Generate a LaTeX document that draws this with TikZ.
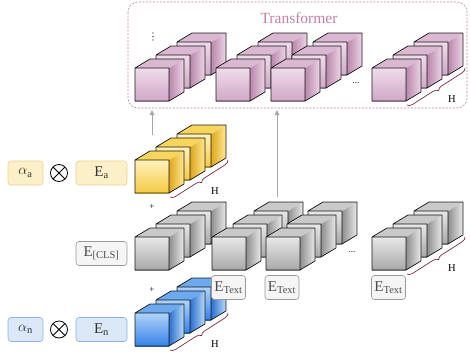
\documentclass[tikz,border=0pt]{standalone}
\usepackage{fontspec}
\setmainfont{Liberation Serif}
\usepackage{amsmath}
\usetikzlibrary{decorations.pathreplacing,arrows.meta}

% cube colours: F1/F2 front, T top, R1/R2 side
\definecolor{pkF1}{HTML}{EFDCEA}\definecolor{pkF2}{HTML}{D0A8C6}
\definecolor{pkT}{HTML}{DBB8D2}\definecolor{pkR1}{HTML}{B886AA}\definecolor{pkR2}{HTML}{EDD6E7}
\definecolor{ywF1}{HTML}{FFF2BC}\definecolor{ywF2}{HTML}{F5C944}
\definecolor{ywT}{HTML}{F8D65E}\definecolor{ywR1}{HTML}{DDA71E}\definecolor{ywR2}{HTML}{FFE992}
\definecolor{gyF1}{HTML}{E8E8E8}\definecolor{gyF2}{HTML}{A8A8A8}
\definecolor{gyT}{HTML}{C9C9C9}\definecolor{gyR1}{HTML}{8E8E8E}\definecolor{gyR2}{HTML}{EAEAEA}
\definecolor{blF1}{HTML}{B0D4FA}\definecolor{blF2}{HTML}{3582E8}
\definecolor{blT}{HTML}{6BAAF0}\definecolor{blR1}{HTML}{2A6ECE}\definecolor{blR2}{HTML}{BADBFA}
\definecolor{tfpink}{HTML}{C47FA8}
\definecolor{brc}{HTML}{7A2A4A}
% tag colours
\definecolor{ytagF}{HTML}{FCF0C9}\definecolor{ytagD}{HTML}{EDCF88}
\definecolor{btagF}{HTML}{DAE8F8}\definecolor{btagD}{HTML}{8CB2E0}

% one cube, front bottom-left corner at (#1,#2)
\newcommand{\cubeat}[3]{%
  \shade[top color=#3F1,bottom color=#3F2] (#1,#2) rectangle ++(34,-33);
  \shade[left color=#3R1,right color=#3R2] (#1+34,#2) -- ++(15,-9) -- ++(0,-33) -- ++(-15,9) -- cycle;
  \fill[#3T] (#1,#2-33) -- ++(34,0) -- ++(15,-9) -- ++(-34,0) -- cycle;
  \draw[edge] (#1,#2) rectangle ++(34,-33) (#1+34,#2) -- ++(15,-9) -- ++(0,-33) -- ++(-34,0) -- ++(-15,9);
}
% brace and H beside a stack based at (#1,#2)
\newcommand{\hbrace}[3]{%
  \coordinate (#3a) at (#1+35,#2+4);
  \coordinate (#3b) at (#1+93,#2-33);
  \draw[hbr] (#3a) -- (#3b);
  \node[hlab] (#3H) at (#1+80,#2-2) {H};
}

\begin{document}
\begin{tikzpicture}[x=1pt, y=-1pt,
  edge/.style={black!90, line width=0.75pt, line join=round},
  hbr/.style={brc, line width=0.7pt, decorate, decoration={brace, amplitude=5pt, mirror}},
  hlab/.style={font=\fontsize{10.5}{12}\selectfont, inner sep=0pt},
  tag/.style={rounded corners=3pt, minimum height=24pt, inner sep=1pt, line width=0.6pt,
    text=black!80, font=\fontsize{15}{18}\selectfont},
  ytag/.style={tag, fill=ytagF, draw=ytagD},
  btag/.style={tag, fill=btagF, draw=btagD},
  gtag/.style={tag, fill=black!4, draw=black!40, text=black!70},
  otimes/.style={circle, draw, line width=0.8pt, minimum size=17pt, inner sep=0pt,
    path picture={\draw[line width=0.8pt] (path picture bounding box.north west) -- (path picture bounding box.south east)
      (path picture bounding box.north east) -- (path picture bounding box.south west);}},
  uparrow/.style={black!35, line width=0.9pt, -{Triangle[length=5pt, width=4.5pt]}},
  small/.style={font=\fontsize{9}{9}\selectfont, inner sep=0pt}]
\useasboundingbox (0,0) rectangle (470,356);

% transformer block
\draw[tfpink, line width=0.6pt, dash pattern=on 2pt off 1.5pt, rounded corners=10pt] (128,2) rectangle (467,108);
\node[text=tfpink, font=\fontsize{15.5}{18}\selectfont] (tf) at (299,18) {Transformer};
\foreach \k in {2,1,0}
  \foreach \x in {135,216,271,372}
    \cubeat{\x+21*\k}{101-13*\k}{pk};
\foreach \d in {33,36.5,40}
  \fill (153,\d) circle (0.7);
\node[small] (hdt) at (356,83) {...};
\hbrace{372}{101}{tfb}

% audio row
\node[ytag, minimum width=35pt] (alphaA) at (25.5,173) {$\alpha_{\text{a}}$};
\node[otimes] (mulA) at (59,173) {};
\node[ytag, minimum width=51pt] (embA) at (101.5,173) {E$_{\text{a}}$};
\foreach \k in {2,1,0}
  \cubeat{135+21*\k}{193-13*\k}{yw};
\hbrace{135}{193}{ywb}

% text row
\node[small] (plusA) at (152,207) {+};
\foreach \k in {2,1,0}
  \foreach \x in {135,212,266,372}
    \cubeat{\x+21*\k}{270-13*\k}{gy};
\node[small] (hdg) at (352,252) {...};
\hbrace{372}{270}{gyb}
\node[gtag, minimum width=51pt] (cls) at (101.5,253.5) {E$_{\text{[CLS]}}$};

% video row
\node[small] (plusB) at (152,290) {+};
\node[btag, minimum width=35pt] (alphaN) at (25.5,329.5) {$\alpha_{\text{n}}$};
\node[otimes] (mulN) at (59,329.5) {};
\node[btag, minimum width=51pt] (embN) at (101.5,329.5) {E$_{\text{n}}$};
\foreach \k in {2,1,0}
  \cubeat{135+21*\k}{346-13*\k}{bl};
\hbrace{135}{346}{blb}

% text embeddings
\node[gtag, minimum width=34pt] (txtA) at (228.5,287.5) {E$_{\text{Text}}$};
\node[gtag, minimum width=34pt] (txtB) at (282,287.5) {E$_{\text{Text}}$};
\node[gtag, minimum width=34pt] (txtC) at (388.5,287.5) {E$_{\text{Text}}$};

% into the transformer
\coordinate (upAs) at (152,135);
\coordinate (upAe) at (152,110);
\coordinate (upBs) at (277,197);
\coordinate (upBe) at (277,110);
\draw[uparrow] (upAs) -- (upAe);
\draw[uparrow] (upBs) -- (upBe);
\end{tikzpicture}
\end{document}
